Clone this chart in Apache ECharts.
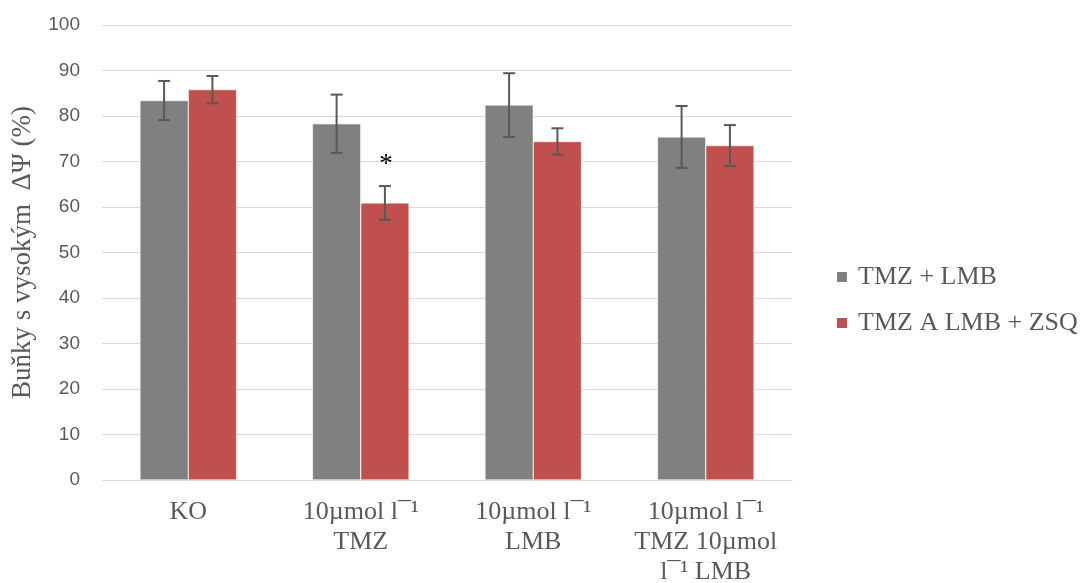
<!DOCTYPE html>
<html>
<head>
<meta charset="utf-8">
<script src="https://cdn.jsdelivr.net/npm/echarts@6/dist/echarts.min.js"></script>
<style>html,body{margin:0;padding:0;background:#fff}#c{width:1082px;height:583px}</style>
</head>
<body>
<div id="c"></div>
<script>
const categories = ['KO', '10µmol l¯¹\nTMZ', '10µmol l¯¹\nLMB', '10µmol l¯¹\nTMZ 10µmol\nl¯¹ LMB'];
const seriesNames = ['TMZ + LMB', 'TMZ A LMB + ZSQ'];
const grayValues = [83.4, 78.3, 82.4, 75.4];
const grayErrors = [4.3, 6.4, 7.0, 6.8];
const redValues = [85.8, 60.9, 74.4, 73.5];
const redErrors = [3.0, 3.7, 2.9, 4.5];
const redMarks = ['', '*', '', ''];
const yTicks = [0, 10, 20, 30, 40, 50, 60, 70, 80, 90, 100];

const chart = echarts.init(document.getElementById('c'));
const txt = '#595959';
const serif = '"Liberation Serif", "Times New Roman", serif';

function errSeries(values, errors, side, marks) {
  return {
    type: 'custom',
    z: 10,
    data: values.map((v, i) => [i, v, errors[i]]),
    encode: {x: 0, y: 1},
    renderItem: function (params, api) {
      const i = api.value(0), v = api.value(1), e = api.value(2);
      const bw = api.size([1, 0])[0] * 0.28;
      const c = api.coord([i, v]);
      const x = c[0] + side * bw / 2;
      const top = api.coord([i, v + e])[1];
      const bot = api.coord([i, v - e])[1];
      const cap = 6;
      const st = {stroke: '#595959', lineWidth: 2};
      const children = [
        {type: 'line', shape: {x1: x, y1: top, x2: x, y2: bot}, style: st},
        {type: 'line', shape: {x1: x - cap, y1: top, x2: x + cap, y2: top}, style: st},
        {type: 'line', shape: {x1: x - cap, y1: bot, x2: x + cap, y2: bot}, style: st}
      ];
      const m = marks ? marks[params.dataIndex] : '';
      if (m) {
        children.push({type: 'text', style: {text: m, x: x + 1, y: top - 8, align: 'center', verticalAlign: 'bottom', fill: '#000', font: '27px ' + serif}});
      }
      return {type: 'group', children: children};
    }
  };
}

chart.setOption({
  animation: false,
  grid: {left: 102, right: 290, top: 25, bottom: 103, containLabel: false, outerBoundsMode: 'none'},
  legend: {
    data: seriesNames,
    orient: 'vertical',
    left: 835, top: 264,
    padding: 0,
    itemWidth: 12, itemHeight: 12, itemGap: 20,
    icon: 'rect',
    textStyle: {fontFamily: serif, fontSize: 26, color: txt, padding: [0, 0, 0, 5]}
  },
  xAxis: {
    type: 'category',
    data: categories,
    axisLine: {lineStyle: {color: '#d9d9d9', width: 1}},
    axisTick: {show: false},
    axisLabel: {fontFamily: serif, fontSize: 26, color: txt, lineHeight: 30, margin: 17, interval: 0}
  },
  yAxis: {
    type: 'value',
    min: 0, max: 100, interval: 10,
    name: 'Buňky s vysokým  ΔΨ (%)',
    nameLocation: 'middle',
    nameGap: 66,
    nameTextStyle: {fontFamily: serif, fontSize: 27, color: txt},
    axisLine: {show: false},
    axisTick: {show: false},
    axisLabel: {fontFamily: '"Liberation Sans", Arial, sans-serif', fontSize: 19, color: txt, margin: 22,
      formatter: v => yTicks.includes(v) ? String(v) : ''},
    splitLine: {lineStyle: {color: '#d9d9d9', width: 1}}
  },
  series: [
    {name: seriesNames[0], type: 'bar', data: grayValues, barWidth: '28%', barGap: '0%',
      itemStyle: {color: '#808080', borderColor: '#ffffff', borderWidth: 0.5}},
    {name: seriesNames[1], type: 'bar', data: redValues, barWidth: '28%', barGap: '0%',
      itemStyle: {color: '#c0504d', borderColor: '#ffffff', borderWidth: 0.5}},
    errSeries(grayValues, grayErrors, -1, null),
    errSeries(redValues, redErrors, 1, redMarks)
  ]
});
</script>
</body>
</html>
